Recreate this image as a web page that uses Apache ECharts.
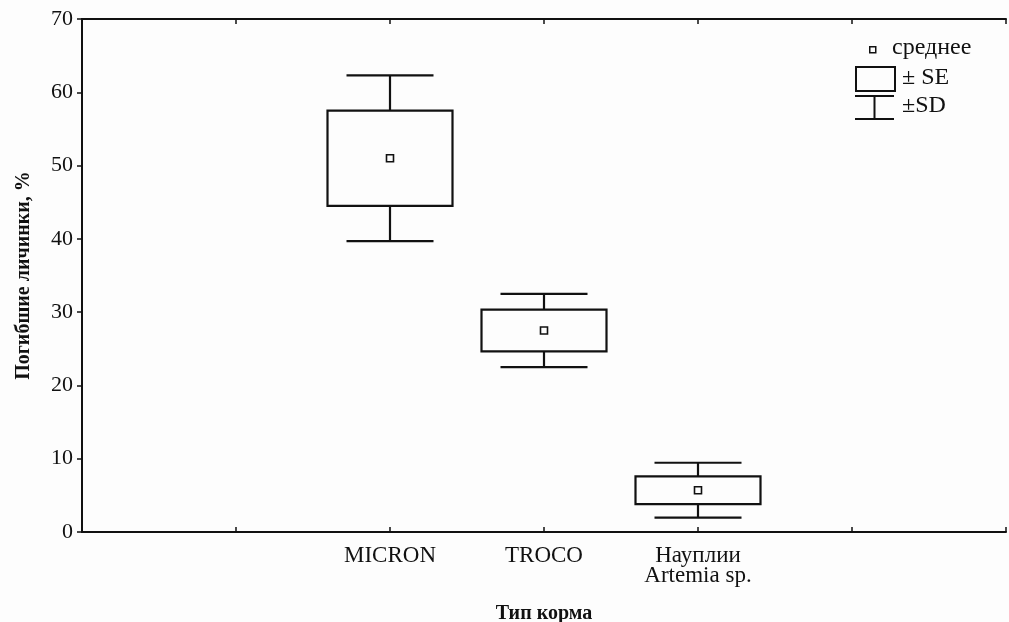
<!DOCTYPE html>
<html>
<head>
<meta charset="utf-8">
<script src="https://cdn.jsdelivr.net/npm/echarts@6/dist/echarts.min.js"></script>
<style>
html,body{margin:0;padding:0;background:#fdfdfd;overflow:hidden;}
#chart{width:1009px;height:622px;}
</style>
</head>
<body>
<div id="chart"></div>
<script>
// ---- data ----
const categories = ['MICRON', 'TROCO', 'Науплии\nArtemia sp.'];
const means = [51.0, 27.5, 5.7];      // среднее
const seVals = [6.5, 2.85, 1.9];      // ± SE
const sdVals = [11.3, 5.0, 3.75];     // ± SD
const yTicks = [0, 10, 20, 30, 40, 50, 60, 70];
const xAxisName = 'Тип корма';
const yAxisName = 'Погибшие личинки, %';
const legendLabels = ['среднее', '± SE', '±SD'];

// ---- layout constants ----
const X_OFFSET = 2;           // first category sits at tick 2 of the 0..6 scale
const X_MAX = categories.length - 1 + 2 * X_OFFSET; // 6
const INK = '#111';
const FONT = 'Liberation Serif';

const seriesData = categories.map((c, i) => [i + X_OFFSET, means[i], seVals[i], sdVals[i]]);

const chart = echarts.init(document.getElementById('chart'), null, {renderer: 'canvas', width: 1009, height: 622});

function renderItem(params, api) {
  const x = api.value(0), m = api.value(1), s = api.value(2), d = api.value(3);
  const c = api.coord([x, m]);
  const seTop = api.coord([x, m + s])[1], seBot = api.coord([x, m - s])[1];
  const sdTop = api.coord([x, m + d])[1], sdBot = api.coord([x, m - d])[1];
  const bw = 62.5, cw = 43.5, ms = 3.5;
  const ls = {stroke: INK, lineWidth: 2.2};
  return {
    type: 'group',
    children: [
      {type: 'line', shape: {x1: c[0], y1: sdTop, x2: c[0], y2: seTop}, style: ls},
      {type: 'line', shape: {x1: c[0], y1: seBot, x2: c[0], y2: sdBot}, style: ls},
      {type: 'line', shape: {x1: c[0] - cw, y1: sdTop, x2: c[0] + cw, y2: sdTop}, style: ls},
      {type: 'line', shape: {x1: c[0] - cw, y1: sdBot, x2: c[0] + cw, y2: sdBot}, style: ls},
      {type: 'rect', shape: {x: c[0] - bw, y: seTop, width: 2 * bw, height: seBot - seTop},
        style: {fill: 'rgba(0,0,0,0)', stroke: INK, lineWidth: 2.2}},
      {type: 'rect', shape: {x: c[0] - ms, y: c[1] - ms, width: 2 * ms, height: 2 * ms},
        style: {fill: '#fdfdfd', stroke: INK, lineWidth: 1.6}}
    ]
  };
}

const baseX = {
  type: 'value', min: 0, max: X_MAX, interval: 1,
  splitLine: {show: false},
  axisLine: {show: true, onZero: false, lineStyle: {color: INK, width: 2}},
  axisTick: {show: true, inside: true, length: 5, lineStyle: {color: INK, width: 1.5}}
};
const baseY = {
  type: 'value', min: yTicks[0], max: yTicks[yTicks.length - 1], interval: yTicks[1] - yTicks[0],
  splitLine: {show: false},
  axisLine: {show: true, lineStyle: {color: INK, width: 2}},
  axisTick: {show: true, length: 5, lineStyle: {color: INK, width: 1.5}}
};

chart.setOption({
  backgroundColor: '#fdfdfd',
  animation: false,
  grid: {left: 82, right: 3, top: 19, bottom: 90, containLabel: false, outerBoundsMode: 'none'},
  xAxis: [
    Object.assign({}, baseX, {
      position: 'bottom',
      name: xAxisName, nameLocation: 'middle', nameGap: 72,
      nameTextStyle: {fontFamily: FONT, fontSize: 20, fontWeight: 'bold', color: INK},
      axisLabel: {
        margin: 14, fontFamily: FONT, fontSize: 23, color: INK, lineHeight: 20,
        formatter: v => categories[v - X_OFFSET] || ''
      }
    }),
    Object.assign({}, baseX, {position: 'top', axisLabel: {show: false}})
  ],
  yAxis: [
    Object.assign({}, baseY, {
      position: 'left',
      axisTick: {show: true, inside: false, length: 5, lineStyle: {color: INK, width: 1.5}},
      name: yAxisName, nameLocation: 'middle', nameGap: 48,
      nameTextStyle: {fontFamily: FONT, fontSize: 20, fontWeight: 'bold', color: INK},
      axisLabel: {margin: 9, fontFamily: FONT, fontSize: 22, color: INK}
    }),
    Object.assign({}, baseY, {
      position: 'right',
      axisTick: {show: true, inside: true, length: 5, lineStyle: {color: INK, width: 1.5}},
      axisLabel: {show: false}
    })
  ],
  series: [{
    type: 'custom',
    renderItem: renderItem,
    data: seriesData,
    encode: {x: 0, y: 1},
    clip: false,
    z: 10
  }],
  graphic: [
    {type: 'rect', left: 869, top: 46, shape: {width: 6, height: 6},
      style: {fill: '#fdfdfd', stroke: INK, lineWidth: 1.5}},
    {type: 'text', left: 892, top: 36, style: {text: legendLabels[0], font: '24px "Liberation Serif"', fill: INK}},
    {type: 'rect', left: 855, top: 66, shape: {width: 39, height: 24},
      style: {fill: 'rgba(0,0,0,0)', stroke: INK, lineWidth: 2}},
    {type: 'text', left: 902, top: 66, style: {text: legendLabels[1], font: '24px "Liberation Serif"', fill: INK}},
    {type: 'line', shape: {x1: 855, y1: 96, x2: 894, y2: 96}, style: {stroke: INK, lineWidth: 2}},
    {type: 'line', shape: {x1: 874.5, y1: 96, x2: 874.5, y2: 119}, style: {stroke: INK, lineWidth: 2}},
    {type: 'line', shape: {x1: 855, y1: 119, x2: 894, y2: 119}, style: {stroke: INK, lineWidth: 2}},
    {type: 'text', left: 902, top: 94, style: {text: legendLabels[2], font: '24px "Liberation Serif"', fill: INK}}
  ]
});
</script>
</body>
</html>
